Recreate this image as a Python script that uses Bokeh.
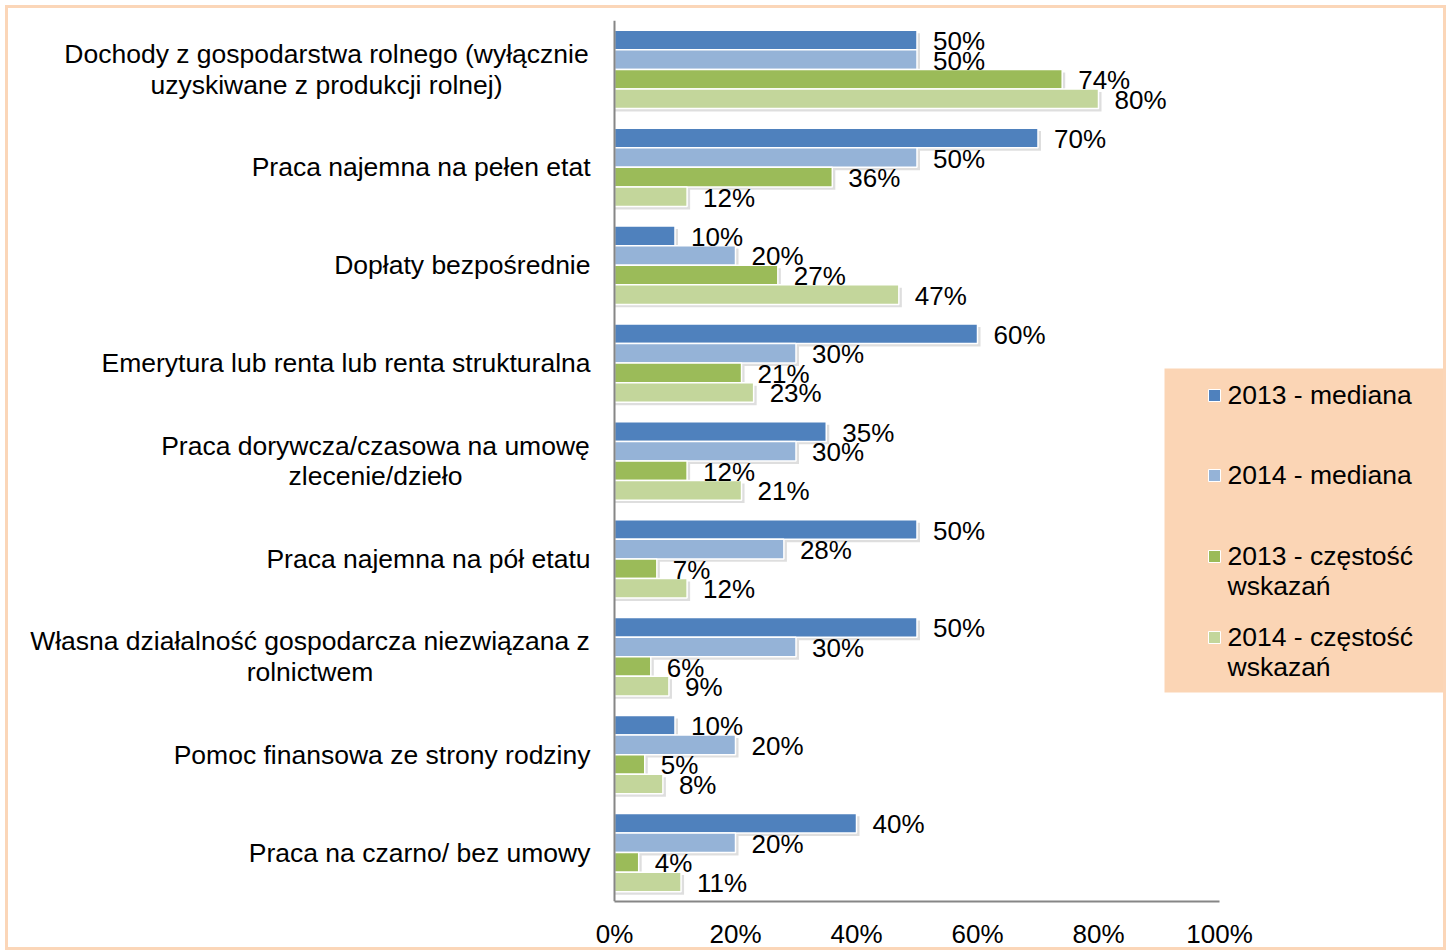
from bokeh.plotting import figure
from bokeh.models import (FactorRange, Range1d, FixedTicker, PrintfTickFormatter,
                          ColumnDataSource, Span)
from bokeh.transform import dodge
from bokeh.core.properties import value
from bokeh.embed import file_html
from bokeh.resources import INLINE

# ---------------- data ----------------
categories = [
    "Dochody z gospodarstwa rolnego (wyłącznie\nuzyskiwane z produkcji rolnej)",
    "Praca najemna na pełen etat",
    "Dopłaty bezpośrednie",
    "Emerytura lub renta lub renta strukturalna",
    "Praca dorywcza/czasowa na umowę\nzlecenie/dzieło",
    "Praca najemna na pół etatu",
    "Własna działalność gospodarcza niezwiązana z\nrolnictwem",
    "Pomoc finansowa ze strony rodziny",
    "Praca na czarno/ bez umowy",
]
mediana_2013 = [50, 70, 10, 60, 35, 50, 50, 10, 40]
mediana_2014 = [50, 50, 20, 30, 30, 28, 30, 20, 20]
czestosc_2013 = [74, 36, 27, 21, 12, 7, 6, 5, 4]
czestosc_2014 = [80, 12, 47, 23, 21, 12, 9, 8, 11]
series_names = ["2013 - mediana", "2014 - mediana",
                "2013 - częstość\nwskazań", "2014 - częstość\nwskazań"]
x_ticks = [0, 20, 40, 60, 80, 100]

# ---------------- styles / layout ----------------
colors = ["#4F81BD", "#95B3D7", "#9BBB59", "#C3D69B"]
offsets = [0.3, 0.1, -0.1, -0.3]
FONT = "Liberation Sans"
FS = "26px"
FS_CAT = "26.5px"
BORDER = "#FBD6B8"

W, H = 1441, 945          # canvas size (element placed at 5,5 with a 3px border)
ORIGIN = 8                 # canvas origin in page pixels
ZERO_PX = 614              # page x of 0 %
PX_PER_UNIT = 6.05
TOP_PX, BOTTOM_PX = 20, 901
N = len(categories)
X_START = -(ZERO_PX - ORIGIN) / PX_PER_UNIT
X_END = (W + ORIGIN - ZERO_PX) / PX_PER_UNIT
BAND = (BOTTOM_PX - TOP_PX) / N

def xd(px):
    return (px - ZERO_PX) / PX_PER_UNIT

def yd(py):
    return N - (py - TOP_PX) / BAND

p = figure(width=W, height=H, output_backend="svg", toolbar_location=None,
           y_range=FactorRange(factors=categories[::-1]),
           x_range=Range1d(X_START, X_END),
           min_border_left=0, min_border_right=0,
           min_border_top=TOP_PX - ORIGIN,
           min_border_bottom=H - (BOTTOM_PX - ORIGIN))
p.outline_line_color = None
p.background_fill_color = None
p.border_fill_color = None
p.xgrid.grid_line_color = None
p.ygrid.grid_line_color = None
p.styles = {"border": f"3px solid {BORDER}", "margin-left": "5px",
            "margin-top": "5px"}

series = [mediana_2013, mediana_2014, czestosc_2013, czestosc_2014]
for vals, off in zip(series, offsets):
    src = ColumnDataSource(dict(cat=categories, vs=[v + 0.5 for v in vals]))
    p.hbar(y=dodge("cat", off - 0.03, range=p.y_range), left=0, right="vs",
           height=0.2, source=src, fill_color="#000000", fill_alpha=0.13,
           line_color=None)
srcs = []
for vals, col, off in zip(series, colors, offsets):
    src = ColumnDataSource(dict(cat=categories, v=vals,
                                lab=[f"{v}%" for v in vals]))
    srcs.append(src)
    p.hbar(y=dodge("cat", off, range=p.y_range), left=0, right="v",
           height=0.2, source=src, fill_color=col, line_color="white",
           line_width=1.5)
for src, off in zip(srcs, offsets):
    p.text(x="v", y=dodge("cat", off, range=p.y_range), text="lab", source=src,
           x_offset=16, y_offset=1, text_baseline="middle", text_align="left",
           text_font=value(FONT), text_font_size=FS, text_color="black")

# category labels: single lines right-aligned, wrapped ones centred
cat_anchor_px = {0: 326, 4: 375, 6: 309.5}
single = [c for i, c in enumerate(categories) if i not in cat_anchor_px]
multi = [categories[i] for i in cat_anchor_px]
p.text(x=[xd(590)] * len(single), y=single, text=single, text_align="right",
       text_baseline="middle", text_font=value(FONT), text_font_size=FS_CAT,
       text_color="black")
p.text(x=[xd(v) for v in cat_anchor_px.values()], y=multi, text=multi,
       text_align="center", text_baseline="middle", text_font=value(FONT),
       text_font_size=FS_CAT, text_color="black", text_line_height=1.03)

# y axis line
p.yaxis.visible = False
p.add_layout(Span(location=0, dimension="height", line_color="#868686",
                  line_width=2))

# legend (drawn manually, Excel-like layout)
p.quad(left=xd(1164), right=X_END, top=yd(368), bottom=yd(692),
       fill_color="#FBD5B5", line_color=None)
leg_y = [395, 475, 556, 637]
p.scatter(x=[xd(1214)] * 4, y=[yd(v) for v in leg_y], marker="square", size=12,
          fill_color=colors, line_color="white", line_width=1)
p.text(x=[xd(1227)] * 4, y=[yd(v - 16) for v in leg_y], text=series_names,
       text_baseline="top", text_align="left", text_font=value(FONT),
       text_font_size=FS_CAT, text_color="black", text_line_height=1.0)

# x axis
xa = p.xaxis[0]
xa.ticker = FixedTicker(ticks=x_ticks)
xa.formatter = PrintfTickFormatter(format="%d%%")
xa.bounds = (0, 100)
xa.axis_line_color = "#868686"
xa.axis_line_width = 2
xa.major_tick_line_color = None
xa.minor_tick_line_color = None
xa.major_tick_out = 0
xa.major_tick_in = 0
xa.minor_tick_out = 0
xa.major_label_standoff = 17
xa.major_label_text_font = FONT
xa.major_label_text_font_size = FS
xa.major_label_text_color = "black"

open("out.html", "w").write(file_html(p, INLINE))
